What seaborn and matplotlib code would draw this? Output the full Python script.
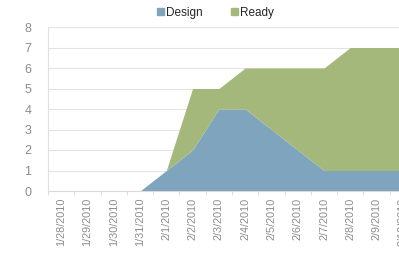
import numpy as np
import pandas as pd
import matplotlib
matplotlib.use("Agg")
import matplotlib.pyplot as plt
import matplotlib.patches as mpatches
import seaborn as sns

# ===== data =====
dates = ["1/28/2010", "1/29/2010", "1/30/2010", "1/31/2010", "2/1/2010", "2/2/2010",
         "2/3/2010", "2/4/2010", "2/5/2010", "2/6/2010", "2/7/2010", "2/8/2010",
         "2/9/2010", "2/10/2010"]
design = [0, 0, 0, 0, 1, 2, 4, 4, 3, 2, 1, 1, 1, 1]
ready = [0, 0, 0, 0, 0, 3, 1, 2, 3, 4, 5, 6, 6, 6]

df = pd.DataFrame({"date": dates, "Design": design, "Ready": ready})

blue = "#7fa4bd"
green = "#a5b87b"
grey_txt = "#8c8c8c"

sns.set_style("white")
plt.rcParams["font.family"] = ["Liberation Sans", "DejaVu Sans"]

fig = plt.figure(figsize=(3.99, 2.57), dpi=100)
ax = fig.add_axes([48 / 399, 1 - 191 / 257, 368 / 399, (191 - 27) / 257])

x = np.arange(len(df))
ax.stackplot(x, df["Design"], df["Ready"], colors=[blue, green], linewidth=0)

ax.set_xlim(-0.5, len(df) - 0.5)
ax.set_ylim(0, 8)
ax.set_yticks(range(0, 9))
ax.yaxis.grid(True, color="#e3e3e3", linewidth=0.8)
ax.set_axisbelow(True)

ax.set_xticks(x)
ax.set_xticklabels(df["date"], rotation=90, fontsize=7.8, color=grey_txt)
# small category boundary ticks like the original
ax.set_xticks(np.arange(-0.5, len(df), 1), minor=True)
ax.tick_params(axis="x", which="minor", length=3, color="#d9d9d9", bottom=True)
ax.tick_params(axis="y", labelsize=9, labelcolor=grey_txt, length=0, pad=12)
ax.tick_params(axis="x", which="major", length=0, pad=5)

for side in ["top", "right"]:
    ax.spines[side].set_visible(False)
ax.spines["left"].set_color("#e0e0e0")
ax.spines["bottom"].set_color("#d9d9d9")

handles = [mpatches.Patch(color=blue, label="Design"),
           mpatches.Patch(color=green, label="Ready")]
fig.legend(handles=handles, loc="upper center", bbox_to_anchor=(0.54, 1.015), ncol=2,
           frameon=False, fontsize=8.5, handlelength=0.6, handleheight=0.6,
           handletextpad=0.2, columnspacing=2.4)

fig.savefig("out.png", dpi=100)
